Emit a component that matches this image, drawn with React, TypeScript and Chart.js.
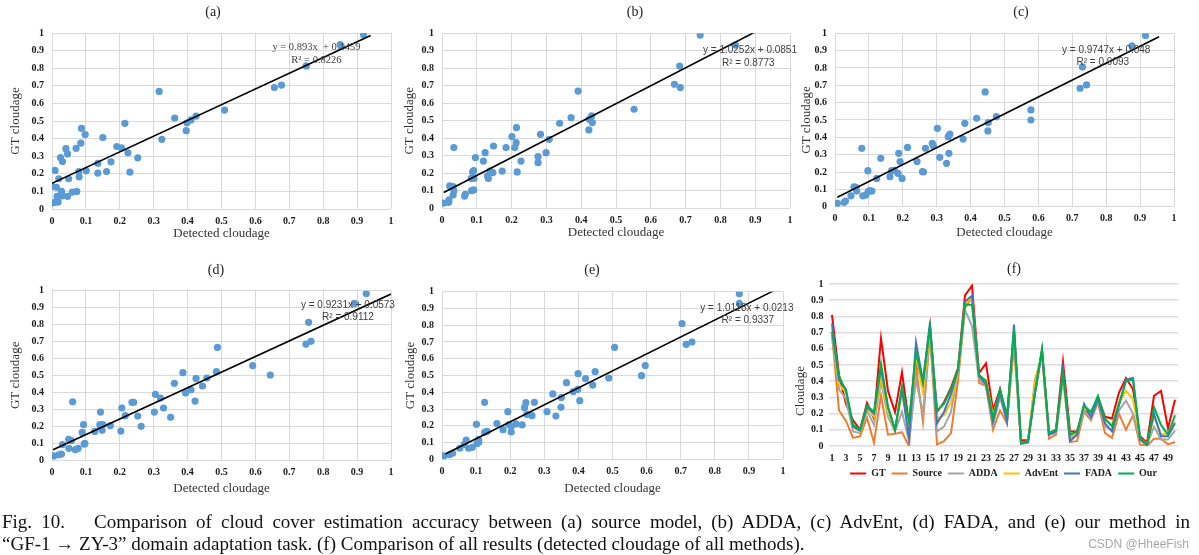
import React, { useEffect, useRef } from "react";
import { Chart, registerables } from "chart.js";
Chart.register(...registerables);

const SERIF = '"Liberation Serif", "Times New Roman", serif';
const SANS = '"Liberation Sans", Arial, sans-serif';

// ---------- scatter panels: detected cloudage (x) vs GT cloudage (y) ----------
const aX = [0.919, 0.85, 0.853, 0.75, 0.677, 0.656, 0.316, 0.509, 0.425, 0.362, 0.41, 0.398, 0.396, 0.215, 0.087, 0.098, 0.15, 0.324, 0.085, 0.191, 0.205, 0.041, 0.071, 0.046, 0.224, 0.025, 0.253, 0.031, 0.174, 0.135, 0.009, 0.101, 0.079, 0.161, 0.135, 0.23, 0.02, 0.049, 0.08, 0.0, 0.013, 0.028, 0.06, 0.073, 0.03, 0.015, 0.046, 0.003, 0.011, 0.018];
const aY = [0.99, 0.934, 0.925, 0.813, 0.704, 0.69, 0.668, 0.562, 0.528, 0.517, 0.506, 0.49, 0.445, 0.487, 0.458, 0.423, 0.406, 0.396, 0.374, 0.355, 0.347, 0.343, 0.345, 0.313, 0.319, 0.292, 0.291, 0.27, 0.268, 0.26, 0.219, 0.217, 0.213, 0.213, 0.204, 0.209, 0.172, 0.172, 0.183, 0.128, 0.123, 0.1, 0.096, 0.1, 0.075, 0.072, 0.072, 0.034, 0.04, 0.04];

const bX = [0.742, 0.843, 0.683, 0.668, 0.685, 0.391, 0.552, 0.43, 0.371, 0.423, 0.432, 0.338, 0.422, 0.214, 0.201, 0.283, 0.308, 0.213, 0.148, 0.184, 0.209, 0.034, 0.124, 0.299, 0.276, 0.096, 0.119, 0.227, 0.276, 0.091, 0.173, 0.216, 0.146, 0.138, 0.131, 0.133, 0.092, 0.084, 0.022, 0.032, 0.034, 0.032, 0.085, 0.091, 0.067, 0.065, 0.02, 0.019, 0.005, 0.088];
const bY = [0.99, 0.933, 0.813, 0.709, 0.69, 0.67, 0.566, 0.528, 0.518, 0.509, 0.49, 0.486, 0.448, 0.461, 0.41, 0.423, 0.394, 0.375, 0.356, 0.347, 0.347, 0.347, 0.318, 0.318, 0.295, 0.29, 0.27, 0.27, 0.261, 0.215, 0.213, 0.208, 0.204, 0.213, 0.185, 0.171, 0.171, 0.171, 0.128, 0.124, 0.101, 0.076, 0.101, 0.105, 0.08, 0.07, 0.048, 0.034, 0.03, 0.208];

const cX = [0.916, 0.876, 0.73, 0.742, 0.723, 0.443, 0.578, 0.578, 0.476, 0.418, 0.452, 0.451, 0.383, 0.302, 0.339, 0.334, 0.378, 0.287, 0.29, 0.214, 0.267, 0.079, 0.188, 0.336, 0.135, 0.309, 0.192, 0.242, 0.329, 0.097, 0.167, 0.258, 0.186, 0.123, 0.162, 0.198, 0.056, 0.062, 0.064, 0.109, 0.098, 0.047, 0.082, 0.091, 0.031, 0.027, 0.007, 0.261, 0.175, 0.102];
const cY = [0.988, 0.927, 0.806, 0.702, 0.683, 0.662, 0.558, 0.5, 0.519, 0.51, 0.485, 0.437, 0.481, 0.452, 0.419, 0.404, 0.39, 0.365, 0.352, 0.342, 0.337, 0.337, 0.308, 0.308, 0.279, 0.285, 0.26, 0.26, 0.25, 0.208, 0.208, 0.202, 0.192, 0.163, 0.173, 0.163, 0.115, 0.112, 0.09, 0.09, 0.087, 0.063, 0.063, 0.067, 0.033, 0.025, 0.019, 0.2, 0.21, 0.093];

const dX = [0.927, 0.892, 0.757, 0.749, 0.764, 0.488, 0.592, 0.644, 0.485, 0.386, 0.425, 0.457, 0.361, 0.444, 0.41, 0.394, 0.422, 0.305, 0.32, 0.061, 0.236, 0.241, 0.206, 0.329, 0.143, 0.302, 0.216, 0.253, 0.35, 0.093, 0.141, 0.15, 0.172, 0.263, 0.143, 0.089, 0.126, 0.203, 0.049, 0.057, 0.031, 0.095, 0.05, 0.069, 0.077, 0.028, 0.02, 0.005, 0.148, 0.097];
const dY = [0.984, 0.925, 0.813, 0.685, 0.701, 0.665, 0.557, 0.502, 0.522, 0.516, 0.482, 0.484, 0.453, 0.437, 0.415, 0.396, 0.348, 0.388, 0.366, 0.344, 0.341, 0.341, 0.307, 0.307, 0.283, 0.283, 0.262, 0.26, 0.252, 0.209, 0.209, 0.209, 0.203, 0.199, 0.193, 0.163, 0.169, 0.171, 0.122, 0.114, 0.091, 0.094, 0.069, 0.061, 0.069, 0.035, 0.031, 0.024, 0.175, 0.098];

const eX = [0.872, 0.872, 0.704, 0.733, 0.716, 0.506, 0.596, 0.585, 0.449, 0.399, 0.421, 0.489, 0.365, 0.442, 0.398, 0.385, 0.325, 0.35, 0.404, 0.125, 0.246, 0.271, 0.242, 0.349, 0.193, 0.308, 0.334, 0.249, 0.264, 0.101, 0.161, 0.217, 0.235, 0.196, 0.203, 0.179, 0.203, 0.125, 0.132, 0.071, 0.107, 0.103, 0.108, 0.065, 0.052, 0.078, 0.089, 0.031, 0.022, 0.005];
const eY = [0.988, 0.93, 0.809, 0.7, 0.686, 0.668, 0.559, 0.499, 0.523, 0.511, 0.481, 0.485, 0.457, 0.443, 0.417, 0.404, 0.39, 0.368, 0.35, 0.34, 0.338, 0.34, 0.308, 0.31, 0.284, 0.284, 0.258, 0.268, 0.26, 0.209, 0.213, 0.211, 0.205, 0.207, 0.195, 0.177, 0.163, 0.161, 0.167, 0.115, 0.117, 0.095, 0.101, 0.089, 0.066, 0.066, 0.072, 0.036, 0.028, 0.02];

// trendlines: slope, intercept and x-range shown
const trendA = { slope: 0.893, intercept: 0.1459, from: 0, to: 0.94 };
const trendB = { slope: 1.0252, intercept: 0.0851, from: 0.005, to: 0.9 };
const trendC = { slope: 0.9747, intercept: 0.048, from: 0.007, to: 0.956 };
const trendD = { slope: 0.9231, intercept: 0.0573, from: 0.003, to: 1.0 };
const trendE = { slope: 1.0118, intercept: 0.0213, from: 0.01, to: 0.975 };

// ---------- panel (f): cloudage per sample ----------
const sampleIds = ["1", "2", "3", "4", "5", "6", "7", "8", "9", "10", "11", "12", "13", "14", "15", "16", "17", "18", "19", "20", "21", "22", "23", "24", "25", "26", "27", "28", "29", "30", "31", "32", "33", "34", "35", "36", "37", "38", "39", "40", "41", "42", "43", "44", "45", "46", "47", "48", "49", "50"];
const gtVals = [0.81, 0.44, 0.26, 0.16, 0.10, 0.265, 0.17, 0.665, 0.34, 0.21, 0.455, 0.14, 0.50, 0.39, 0.74, 0.21, 0.27, 0.36, 0.48, 0.93, 0.99, 0.45, 0.51, 0.22, 0.35, 0.16, 0.70, 0.035, 0.035, 0.33, 0.59, 0.08, 0.10, 0.52, 0.09, 0.09, 0.22, 0.19, 0.30, 0.18, 0.17, 0.33, 0.42, 0.35, 0.06, 0.02, 0.31, 0.34, 0.11, 0.285];
const sourceVals = [0.69, 0.22, 0.155, 0.05, 0.06, 0.175, 0.02, 0.31, 0.07, 0.075, 0.085, 0.0, 0.49, 0.15, 0.69, 0.01, 0.03, 0.08, 0.40, 0.85, 0.92, 0.39, 0.37, 0.10, 0.22, 0.14, 0.62, 0.015, 0.02, 0.41, 0.56, 0.045, 0.07, 0.43, 0.025, 0.03, 0.21, 0.16, 0.27, 0.08, 0.05, 0.20, 0.10, 0.19, 0.01, 0.0, 0.045, 0.045, 0.01, 0.025];
const addaVals = [0.68, 0.35, 0.29, 0.09, 0.08, 0.22, 0.13, 0.40, 0.18, 0.09, 0.21, 0.03, 0.41, 0.20, 0.70, 0.09, 0.12, 0.21, 0.46, 0.84, 0.74, 0.41, 0.37, 0.13, 0.30, 0.15, 0.68, 0.015, 0.02, 0.33, 0.57, 0.07, 0.08, 0.42, 0.05, 0.07, 0.22, 0.17, 0.28, 0.12, 0.10, 0.22, 0.28, 0.20, 0.04, 0.005, 0.12, 0.04, 0.04, 0.095];
const advEntVals = [0.73, 0.38, 0.33, 0.12, 0.09, 0.24, 0.18, 0.43, 0.21, 0.10, 0.32, 0.13, 0.56, 0.33, 0.72, 0.17, 0.19, 0.27, 0.46, 0.876, 0.916, 0.42, 0.41, 0.19, 0.33, 0.17, 0.72, 0.02, 0.03, 0.39, 0.58, 0.08, 0.09, 0.44, 0.06, 0.08, 0.24, 0.20, 0.30, 0.16, 0.13, 0.27, 0.34, 0.29, 0.05, 0.01, 0.18, 0.07, 0.08, 0.15];
const fadaVals = [0.757, 0.41, 0.35, 0.12, 0.095, 0.24, 0.20, 0.48, 0.24, 0.10, 0.35, 0.05, 0.64, 0.40, 0.764, 0.14, 0.21, 0.32, 0.47, 0.892, 0.927, 0.43, 0.38, 0.15, 0.33, 0.15, 0.749, 0.015, 0.025, 0.33, 0.59, 0.07, 0.09, 0.48, 0.03, 0.07, 0.26, 0.18, 0.29, 0.14, 0.09, 0.25, 0.41, 0.42, 0.04, 0.005, 0.20, 0.06, 0.06, 0.14];
const ourVals = [0.704, 0.43, 0.34, 0.13, 0.10, 0.25, 0.21, 0.51, 0.24, 0.10, 0.37, 0.15, 0.58, 0.39, 0.733, 0.22, 0.26, 0.35, 0.48, 0.872, 0.872, 0.44, 0.40, 0.17, 0.35, 0.19, 0.716, 0.02, 0.03, 0.33, 0.60, 0.08, 0.10, 0.45, 0.07, 0.09, 0.25, 0.21, 0.31, 0.17, 0.12, 0.26, 0.40, 0.41, 0.05, 0.005, 0.24, 0.13, 0.07, 0.19];

const seriesNames = ["GT", "Source", "ADDA", "AdvEnt", "FADA", "Our"];
const seriesColors = ["#FF0000", "#ED7D31", "#A5A5A5", "#FFC000", "#4472C4", "#00B050"];
const seriesValues = [gtVals, sourceVals, addaVals, advEntVals, fadaVals, ourVals];

const fmt = (v: any) => {
  const n = Math.round(Number(v) * 10) / 10;
  return n === 0 ? "0" : n === 1 ? "1" : n.toFixed(1);
};

const panels = [
  { title: "(a)", xs: aX, ys: aY, trend: trendA, eq: "y = 0.893x  + 0.1459", r2: "R² = 0.8226", eqFont: `10.5px ${SERIF}`, eqAt: [0.78, 0.917], r2At: [0.78, 0.847], L: 52, R: 391, T: 33, B: 209, yTitleX: 16, xTitleY: 233.3, titleAt: [213, 12] },
  { title: "(b)", xs: bX, ys: bY, trend: trendB, eq: "y = 1.0252x + 0.0851", r2: "R² = 0.8773", eqFont: `10px ${SANS}`, eqAt: [0.885, 0.905], r2At: [0.88, 0.828], L: 442, R: 790, T: 33.3, B: 208.3, yTitleX: 409.3, xTitleY: 232.3, titleAt: [635, 12] },
  { title: "(c)", xs: cX, ys: cY, trend: trendC, eq: "y = 0.9747x + 0.048", r2: "R² = 0.9093", eqFont: `10px ${SANS}`, eqAt: [0.8, 0.904], r2At: [0.79, 0.833], L: 835, R: 1174, T: 33.3, B: 206.7, yTitleX: 806.7, xTitleY: 232.3, titleAt: [1021, 12] },
  { title: "(d)", xs: dX, ys: dY, trend: trendD, eq: "y = 0.9231x + 0.0573", r2: "R² = 0.9112", eqFont: `10px ${SANS}`, eqAt: [0.873, 0.915], r2At: [0.873, 0.843], L: 52, R: 391, T: 290.7, B: 460, yTitleX: 16, xTitleY: 488.7, titleAt: [216, 270] },
  { title: "(e)", xs: eX, ys: eY, trend: trendE, eq: "y = 1.0118x + 0.0213", r2: "R² = 0.9337", eqFont: `10px ${SANS}`, eqAt: [0.894, 0.9], r2At: [0.897, 0.827], L: 442, R: 783, T: 291.7, B: 459.3, yTitleX: 410.7, xTitleY: 488.7, titleAt: [592, 270.7] },
];

const textPlugin = (items: any[]) => ({
  id: "panelText",
  afterDraw(chart: any) {
    const ctx = chart.ctx;
    ctx.save();
    for (const it of items) {
      let px = it.px;
      let py = it.py;
      if (it.data) {
        px = chart.scales.x.getPixelForValue(it.data[0]);
        py = chart.scales.y.getPixelForValue(it.data[1]);
      }
      ctx.font = it.font;
      ctx.fillStyle = it.color;
      ctx.textAlign = "center";
      ctx.textBaseline = "middle";
      if (it.rotate) {
        ctx.save();
        ctx.translate(px, py);
        ctx.rotate(it.rotate);
        ctx.fillText(it.text, 0, 0);
        ctx.restore();
      } else {
        ctx.fillText(it.text, px, py);
      }
    }
    ctx.restore();
  },
});

const TICK_FONT = { family: SERIF, size: 10, weight: "bold" as const };
const TITLE_FONT = { family: SERIF, size: 13 };
const W = 1199;
const H = 555;

function makeScatter(canvas: HTMLCanvasElement, p: any) {
  const padLeft = p.yTitleX - 7.8;
  const xBottom = p.xTitleY + 7.8;
  const t = p.trend;
  const items = [
    { text: p.title, px: p.titleAt[0], py: p.titleAt[1], font: `14px ${SERIF}`, color: "#222" },
    { text: p.eq, data: p.eqAt, font: p.eqFont, color: "#404040" },
    { text: p.r2, data: p.r2At, font: p.eqFont, color: "#404040" },
  ];
  return new Chart(canvas, {
    type: "scatter",
    data: {
      datasets: [
        {
          type: "line",
          data: [
            { x: t.from, y: t.slope * t.from + t.intercept },
            { x: t.to, y: t.slope * t.to + t.intercept },
          ],
          borderColor: "#000",
          borderWidth: 1.6,
          pointRadius: 0,
          order: 0,
        },
        {
          type: "scatter",
          data: p.xs.map((x: number, i: number) => ({ x, y: p.ys[i] })),
          backgroundColor: "#5B9BD5",
          borderWidth: 0,
          pointRadius: 3.6,
          order: 1,
        },
      ],
    } as any,
    options: {
      responsive: false,
      animation: false,
      events: [],
      layout: { padding: { left: padLeft, top: p.T, right: W - p.R, bottom: H - xBottom } },
      plugins: { legend: { display: false }, tooltip: { enabled: false } },
      scales: {
        x: {
          type: "linear",
          min: 0,
          max: 1,
          ticks: { stepSize: 0.1, font: TICK_FONT, color: "#1a1a1a", padding: 6, callback: fmt, maxRotation: 0, autoSkip: false },
          grid: { color: "#d9d9d9", drawTicks: false },
          border: { display: false },
          title: { display: true, text: "Detected cloudage", font: TITLE_FONT, color: "#333", padding: 0 },
          afterFit: (s: any) => { s.height = xBottom - p.B; },
        },
        y: {
          type: "linear",
          min: 0,
          max: 1,
          ticks: { stepSize: 0.1, font: TICK_FONT, color: "#1a1a1a", padding: 8, callback: fmt },
          grid: { color: "#d9d9d9", drawTicks: false },
          border: { display: false },
          title: { display: true, text: "GT cloudage", font: TITLE_FONT, color: "#333", padding: 0 },
          afterFit: (s: any) => { s.width = p.L - padLeft; },
        },
      },
    } as any,
    plugins: [textPlugin(items)],
  });
}

function makeLines(canvas: HTMLCanvasElement) {
  const L = 828.5, R = 1178.5, T = 284, B = 446;
  const padLeft = 790;
  const legendTop = 462.5;
  const legendPad = 6;
  const legendBottom = legendTop + 10 + legendPad + 10;
  const items = [
    { text: "(f)", px: 1014, py: 269.3, font: `14px ${SERIF}`, color: "#222" },
    { text: "Cloudage", px: 800.7, py: 391, font: `13px ${SERIF}`, color: "#333", rotate: -Math.PI / 2 },
  ];
  return new Chart(canvas, {
    type: "line",
    data: {
      labels: sampleIds,
      datasets: seriesNames.map((name, i) => ({
        label: name,
        data: seriesValues[i],
        borderColor: seriesColors[i],
        backgroundColor: seriesColors[i],
        borderWidth: 2,
        pointRadius: 0,
        tension: 0,
        order: seriesNames.length - 1 - i,
      })),
    },
    options: {
      responsive: false,
      animation: false,
      events: [],
      layout: { padding: { left: padLeft, top: T, right: W - R, bottom: H - legendBottom } },
      plugins: {
        tooltip: { enabled: false },
        legend: {
          position: "bottom",
          fullSize: false,
          labels: {
            usePointStyle: true,
            pointStyle: "line",
            pointStyleWidth: 16,
            font: { family: SERIF, size: 10, weight: "bold" },
            color: "#222",
            padding: legendPad,
            sort: (a: any, b: any) => a.datasetIndex - b.datasetIndex,
          },
        },
      },
      scales: {
        x: {
          offset: true,
          grid: { display: false },
          border: { display: false },
          ticks: {
            autoSkip: false,
            maxRotation: 0,
            minRotation: 0,
            font: TICK_FONT,
            color: "#1a1a1a",
            padding: -2,
            callback: (_v: any, idx: number) => (idx % 2 === 0 ? sampleIds[idx] : ""),
          },
          afterFit: (s: any) => {
            s.height = legendTop - B;
            s._computeLabelArea = () => undefined;
          },
        },
        y: {
          min: 0,
          max: 1,
          ticks: { stepSize: 0.1, font: TICK_FONT, color: "#1a1a1a", padding: 5, callback: fmt },
          grid: { color: "#dedede", lineWidth: 1.5, drawTicks: false },
          border: { display: false },
          afterFit: (s: any) => {
            s.width = L - padLeft;
            s._computeLabelArea = () => undefined;
          },
        },
      },
    } as any,
    plugins: [textPlugin(items)],
  });
}

export default function App() {
  const refs = useRef<(HTMLCanvasElement | null)[]>([]);
  useEffect(() => {
    const charts: Chart[] = [];
    panels.forEach((p, i) => {
      const c = refs.current[i];
      if (c) charts.push(makeScatter(c, p));
    });
    const cf = refs.current[5];
    if (cf) charts.push(makeLines(cf));
    return () => charts.forEach((c) => c.destroy());
  }, []);

  return (
    <div style={{ position: "absolute", left: 0, top: 0, width: W, height: H, background: "#fff", overflow: "hidden" }}>
      {[0, 1, 2, 3, 4, 5].map((i) => (
        <canvas
          key={i}
          ref={(el) => { refs.current[i] = el; }}
          width={W}
          height={H}
          style={{ position: "absolute", left: 0, top: 0, width: W, height: H }}
        />
      ))}
      <div
        style={{
          position: "absolute",
          left: 2,
          top: 510.6,
          width: 1188,
          font: `19px ${SERIF}`,
          lineHeight: "22px",
          color: "#111",
          textAlign: "justify",
          textAlignLast: "justify" as any,
          whiteSpace: "normal",
        }}
      >
        Fig. 10.<span style={{ display: "inline-block", width: 20 }} /> Comparison of cloud cover estimation accuracy between (a) source model, (b) ADDA, (c) AdvEnt, (d) FADA, and (e) our method in
      </div>
      <div
        style={{
          position: "absolute",
          left: 2,
          top: 532.6,
          font: `19px ${SERIF}`,
          lineHeight: "22px",
          color: "#111",
          whiteSpace: "nowrap",
        }}
      >
        “GF-1 → ZY-3” domain adaptation task. (f) Comparison of all results (detected cloudage of all methods).
      </div>
      <div
        style={{
          position: "absolute",
          right: 10,
          top: 536,
          font: `12px ${SANS}`,
          lineHeight: "16px",
          color: "#a8a8a8",
          whiteSpace: "nowrap",
        }}
      >
        CSDN @HheeFish
      </div>
    </div>
  );
}
